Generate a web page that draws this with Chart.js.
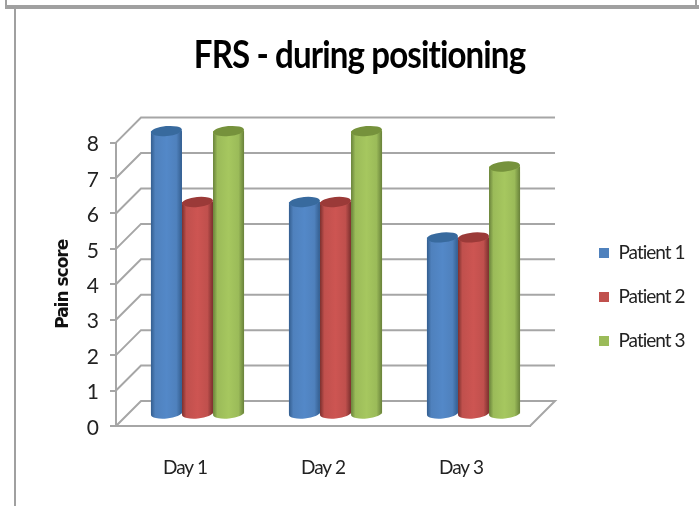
<!DOCTYPE html>
<html>
<head>
<meta charset="utf-8">
<title>FRS - during positioning</title>
<script src="https://cdn.jsdelivr.net/npm/chart.js@4"></script>
<style>
  html, body { margin: 0; background: #fff; overflow: hidden; }
  #topBox { position: absolute; left: 5px; top: -10px; width: 688px; height: 15px; border: 2px solid #a0a0a0; }
  #frame { position: absolute; left: 14px; top: 7px; width: 700px; height: 510px; border: 2px solid #a0a0a0; }
  #topLine { position: absolute; left: 5px; top: 5px; width: 694px; height: 2px; background: #a0a0a0; }
  #resultsChart { position: absolute; left: 20px; top: 8px; }
</style>
</head>
<body>
<div id="topBox"></div>
<div id="topLine"></div>
<div id="frame"></div>
<canvas id="resultsChart" width="679" height="498"></canvas>
<script>
const days = ['Day 1', 'Day 2', 'Day 3'];
const patient1 = [8, 6, 5];
const patient2 = [6, 6, 5];
const patient3 = [8, 8, 7];
const scoreTicks = [0, 1, 2, 3, 4, 5, 6, 7, 8];

const fontName = 'Lato, sans-serif';
const wallDepth = 25; // how far the back wall sits behind the front axis
const gridColor = '#a6a6a6';
const titleSqueeze = 0.87; // no condensed font installed, so squeeze the title

// light / mid / dark shades for the cylinders
const shades = [
  { mid: '#4f81bd', light: '#5388c8', dark: '#335d8e', top: '#386a9e' },
  { mid: '#c0504d', light: '#cd5552', dark: '#7a2f2d', top: '#9b3a38' },
  { mid: '#9bbb59', light: '#a6c75f', dark: '#68813a', top: '#76923c' }
];

const walls = {
  id: 'walls',
  beforeDraw(chart) {
    chart.ctx.letterSpacing = '-1px';
  },
  beforeDatasetsDraw(chart) {
    const { ctx, scales } = chart;
    const left = scales.x.left, right = scales.x.right;
    ctx.save();
    ctx.strokeStyle = gridColor;
    ctx.lineWidth = 2;
    scoreTicks.forEach(v => {
      const y = scales.y.getPixelForValue(v);
      ctx.beginPath();
      ctx.moveTo(left, y);
      ctx.lineTo(left + wallDepth, y - wallDepth);
      ctx.lineTo(right + wallDepth, y - wallDepth);
      if (v === 0) ctx.lineTo(right, y);
      ctx.stroke();
    });
    ctx.restore();

    // bars stand in the middle of the floor
    ctx.save();
    ctx.translate(wallDepth / 2, -11.5);
  },
  afterDatasetsDraw(chart) {
    const { ctx } = chart;
    chart.data.datasets.forEach((ds, i) => {
      const s = shades[i];
      chart.getDatasetMeta(i).data.forEach(bar => {
        const x0 = bar.x - bar.width / 2, x1 = bar.x + bar.width / 2;
        const rx = bar.width / 2, ry = 5, tilt = -0.09;
        const g = ctx.createLinearGradient(x0, 0, x1, 0);
        g.addColorStop(0, s.dark);
        g.addColorStop(0.14, s.mid);
        g.addColorStop(0.5, s.light);
        g.addColorStop(0.82, s.mid);
        g.addColorStop(1, s.dark);
        ctx.fillStyle = g;
        ctx.beginPath();
        ctx.ellipse(bar.x, bar.y, rx, ry, tilt, Math.PI, 0, true);
        ctx.ellipse(bar.x, bar.base, rx, ry, tilt, 0, Math.PI);
        ctx.closePath();
        ctx.fill();
        ctx.fillStyle = s.top;
        ctx.beginPath();
        ctx.ellipse(bar.x, bar.y, rx, ry, tilt, 0, Math.PI * 2);
        ctx.fill();
      });
    });
    ctx.restore();
  },
  afterLayout(chart) {
    // legend sits to the right of the plot, placed by hand
    const lg = chart.legend;
    const pad = lg.options.labels.padding;
    lg.left = 579 - pad;
    lg.right = lg.left + lg.width;
    lg.top = 245 - pad - 9.5;
    lg.bottom = lg.top + lg.height;

    // title is centred over the whole canvas, not just the plot
    const tb = chart.titleBlock;
    tb.left = 0;
    tb.right = chart.width;
    if (!tb.squeezed) {
      const drawTitle = tb.draw;
      tb.draw = function () {
        const ctx = this.ctx, cx = chart.width / 2;
        ctx.save();
        ctx.translate(cx, 0);
        ctx.scale(titleSqueeze, 1);
        ctx.translate(-cx, 0);
        drawTitle.call(this);
        ctx.restore();
      };
      tb.squeezed = true;
    }
  }
};

new Chart(document.getElementById('resultsChart'), {
  type: 'bar',
  data: {
    labels: days,
    datasets: [
      { label: 'Patient 1', data: patient1, backgroundColor: shades[0].mid, clip: false },
      { label: 'Patient 2', data: patient2, backgroundColor: shades[1].mid, clip: false },
      { label: 'Patient 3', data: patient3, backgroundColor: shades[2].mid, clip: false }
    ]
  },
  options: {
    responsive: false,
    animation: false,
    layout: { padding: { left: 0, right: 169, top: 0, bottom: 0 } },
    datasets: { bar: { barPercentage: 1, categoryPercentage: 0.675 } },
    scales: {
      x: {
        afterFit(s) { s.height = 80; },
        grid: { display: false },
        border: { color: gridColor, width: 2 },
        ticks: { color: '#222', font: { family: fontName, size: 19 }, padding: 22 }
      },
      y: {
        min: 0,
        max: 8,
        afterFit(s) { s.width = 96; },
        afterBuildTicks(s) { s.ticks = scoreTicks.map(v => ({ value: v })); },
        grid: { drawOnChartArea: false, color: gridColor, lineWidth: 2, tickLength: 6 },
        border: { color: gridColor, width: 2 },
        ticks: { color: '#222', font: { family: fontName, size: 21 }, padding: 12, labelOffset: 2 },
        title: {
          display: true,
          text: 'Pain score',
          color: '#111',
          font: { family: '"DejaVu Sans", sans-serif', size: 17, weight: 'bold' },
          padding: { top: 33, bottom: 0 }
        }
      }
    },
    plugins: {
      title: {
        display: true,
        text: 'FRS - during positioning',
        color: '#000',
        font: { family: fontName, size: 38, weight: 'bold' },
        padding: { top: 25, bottom: 64 }
      },
      legend: {
        position: 'chartArea',
        align: 'start',
        labels: {
          boxWidth: 10,
          boxHeight: 10,
          padding: 25,
          color: '#222',
          font: { family: fontName, size: 19 }
        }
      },
      tooltip: { enabled: false }
    }
  },
  plugins: [walls]
});
</script>
</body>
</html>
